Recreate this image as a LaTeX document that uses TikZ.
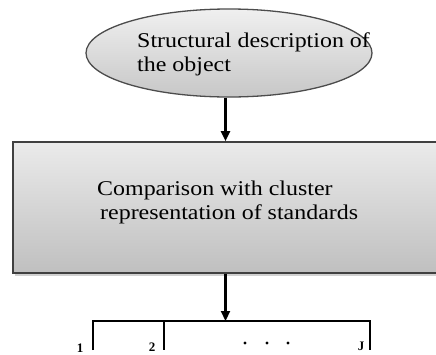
\documentclass[tikz,border=0pt]{standalone}
\usepackage{fontspec}
\setmainfont{Liberation Serif}
\newfontfamily\widefont[FakeStretch=1.14]{Liberation Serif}
\usetikzlibrary{shapes.geometric,arrows.meta}
\begin{document}
\begin{tikzpicture}[x=1pt,y=-1pt,
  stage/.style={draw=black!70,line width=1.3pt,top color=black!6,bottom color=black!22},
  bigtext/.style={font=\widefont\fontsize{21}{23.5}\selectfont,align=left,inner sep=0pt,anchor=north west},
  flow/.style={line width=2.2pt,-{Triangle[length=10pt,width=9pt]}},
  bracket/.style={line width=2.2pt},
  idx/.style={font=\bfseries\fontsize{13}{13}\selectfont,inner sep=0pt}]
  \useasboundingbox (0,0) rectangle (436,354);
  % object description (ellipse)
  \node[stage,ellipse,minimum width=286pt,minimum height=88pt,inner sep=0pt] (obj) at (229,53) {};
  \node[bigtext] (objtxt) at (137,33) {Structural description of\\the object};
  % comparison block, running off the right edge
  \fill[black!18] (15,145) rectangle (440,276);
  \node[stage,rectangle,line width=1.6pt,minimum width=425pt,minimum height=131pt,inner sep=0pt,draw=black!75,top color=black!8,bottom color=black!25] (box) at (225.5,207.5) {};
  \node[bigtext] (boxtxt) at (97,181) {Comparison with cluster\\\hspace{3pt}representation of standards};
  % arrows
  \draw[flow] (box.north |- obj.south) -- (box.north);
  \coordinate (br) at (225.5,321);
  \draw[flow] (box.south) -- (br);
  % output bracket
  \coordinate (b1) at (93,321);
  \coordinate (bJ) at (370,321);
  \coordinate (b2) at (164,321);
  \coordinate (e1) at (93,350);
  \coordinate (e2) at (164,350);
  \coordinate (eJ) at (370,350);
  \draw[bracket] (e1) -- (b1) -- (bJ) -- (eJ);
  \draw[bracket] (b2) -- (e2);
  \node[idx] (l1) at (80,348) {1};
  \node[idx] (l2) at (152,347) {2};
  \node[idx] (lJ) at (361,346) {J};
  \foreach \x in {245,267,288} \fill (\x,343) circle (1.7pt);
\end{tikzpicture}
\end{document}
